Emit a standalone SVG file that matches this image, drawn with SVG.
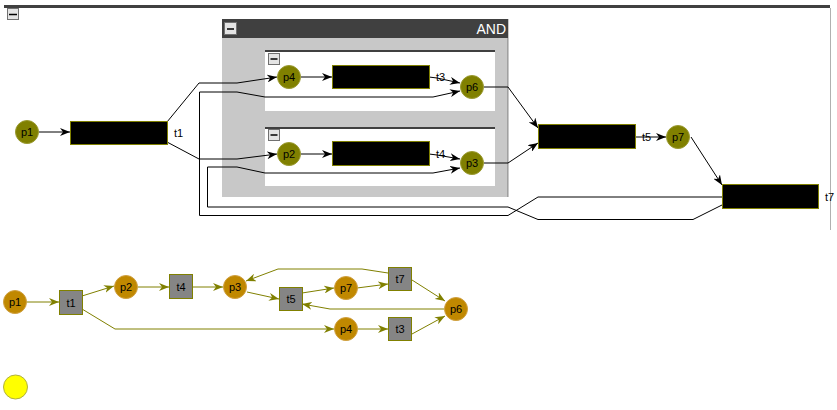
<svg xmlns="http://www.w3.org/2000/svg" width="837" height="410" viewBox="0 0 837 410">
<style>
text{font-family:"Liberation Sans",Arial,sans-serif;font-size:11px;fill:#000}
.pl{fill:#808000;stroke:#9a9a30;stroke-width:1}
.tr{fill:#000;stroke:#808000;stroke-width:1}
.bp{fill:#c08800;stroke:#d0a040;stroke-width:1}
.bt{fill:#858585;stroke:#808000;stroke-width:1}
.c{fill:none;stroke:#000;stroke-width:1}
.o{fill:none;stroke:#808000;stroke-width:1}
.btn{fill:#e4e4e4;stroke:#707070;stroke-width:1}
.lab{text-anchor:middle}
</style>
<defs>
<marker id="ab" markerUnits="userSpaceOnUse" markerWidth="10" markerHeight="8" refX="10" refY="4" orient="auto"><path d="M0,0 L10,4 L0,8 L3,4 z" fill="#000"/></marker>
<marker id="ao" markerUnits="userSpaceOnUse" markerWidth="10" markerHeight="8" refX="10" refY="4" orient="auto"><path d="M0,0 L10,4 L0,8 L3,4 z" fill="#808000"/></marker>
</defs>
<rect width="837" height="410" fill="#fff"/>
<!-- frame -->
<rect x="4" y="5" width="826" height="3" fill="#404040"/>
<line x1="830.5" y1="8" x2="830.5" y2="230" stroke="#b0b0b0"/>
<rect class="btn" x="7.5" y="8.5" width="11" height="11"/>
<line x1="9" y1="14.5" x2="17" y2="14.5" stroke="#000" stroke-width="1.5"/>
<!-- AND container -->
<g id="and">
<rect x="222" y="19" width="287" height="178" fill="#c8c8c8"/>
<line x1="507.5" y1="38" x2="507.5" y2="197" stroke="#a0a0a0"/>
<rect x="222" y="19" width="286" height="19" fill="#404040"/>
<rect class="btn" x="224.5" y="22.5" width="12" height="12"/>
<line x1="227" y1="29" x2="234" y2="29" stroke="#000" stroke-width="1.5"/>
<text x="506" y="34" style="font-size:14px;fill:#fff;text-anchor:end">AND</text>
<rect x="265" y="50" width="230" height="61" fill="#fff"/>
<rect x="265" y="50" width="230" height="2" fill="#404040"/>
<rect class="btn" x="268.5" y="53.5" width="11" height="11"/>
<line x1="270.5" y1="59" x2="277.5" y2="59" stroke="#000" stroke-width="1.5"/>
<rect x="265" y="127" width="230" height="59" fill="#fff"/>
<rect x="265" y="127" width="230" height="2" fill="#404040"/>
<rect class="btn" x="268.5" y="129.5" width="11" height="11"/>
<line x1="270.5" y1="135" x2="277.5" y2="135" stroke="#000" stroke-width="1.5"/>
</g>
<!-- connectors top -->
<g id="connectors-top">
<line class="c" x1="39" y1="132" x2="70" y2="132" marker-end="url(#ab)"/>
<polyline class="c" points="167,122 199,83 237,83 277,77" marker-end="url(#ab)"/>
<polyline class="c" points="167,142 199,159 237,159 277,154" marker-end="url(#ab)"/>
<line class="c" x1="301" y1="77" x2="332" y2="77" marker-end="url(#ab)"/>
<polyline class="c" points="429,77 437,78 460,83" marker-end="url(#ab)"/>
<line class="c" x1="301" y1="154" x2="332" y2="154" marker-end="url(#ab)"/>
<polyline class="c" points="429,154 437,155 460,159" marker-end="url(#ab)"/>
<polyline class="c" points="722,197 538,197 508,215.5 199.5,215.5 199.5,92 237,92 265,97 433,97 460,91" marker-end="url(#ab)"/>
<polyline class="c" points="722,205 693,219.5 538,219.5 508,207 207.5,207 207.5,167 237,167 265,173 433,173 460,168" marker-end="url(#ab)"/>
<polyline class="c" points="484,87 508,87 538,128" marker-end="url(#ab)"/>
<polyline class="c" points="484,163 508,163 538,143" marker-end="url(#ab)"/>
<line class="c" x1="635" y1="137" x2="666" y2="137" marker-end="url(#ab)"/>
<line class="c" x1="691" y1="137" x2="722" y2="185" marker-end="url(#ab)"/>
</g>
<!-- top nodes -->
<g id="top-p1"><circle class="pl" cx="27" cy="132" r="11.5"/><text class="lab" x="27" y="136">p1</text></g>
<g id="top-t1"><rect class="tr" x="70.5" y="121.5" width="97" height="23"/><text x="174" y="137">t1</text></g>
<g id="top-p4"><circle class="pl" cx="289" cy="77" r="11.5"/><text class="lab" x="289" y="81">p4</text></g>
<g id="top-t3"><rect class="tr" x="332.5" y="65.5" width="97" height="23"/><text x="436" y="81">t3</text></g>
<g id="top-p6"><circle class="pl" cx="472" cy="87" r="11.5"/><text class="lab" x="472" y="91">p6</text></g>
<g id="top-p2"><circle class="pl" cx="289" cy="154" r="11.5"/><text class="lab" x="289" y="158">p2</text></g>
<g id="top-t4"><rect class="tr" x="332.5" y="141.5" width="97" height="24"/><text x="436" y="158">t4</text></g>
<g id="top-p3"><circle class="pl" cx="472" cy="163" r="11.5"/><text class="lab" x="472" y="167">p3</text></g>
<g id="top-t5"><rect class="tr" x="538.5" y="124.5" width="97" height="24"/><text x="642" y="141">t5</text></g>
<g id="top-p7"><circle class="pl" cx="678" cy="137" r="11.5"/><text class="lab" x="678" y="141">p7</text></g>
<g id="top-t7"><rect class="tr" x="722.5" y="184.5" width="96" height="24"/><text x="825" y="201">t7</text></g>
<!-- connectors bottom -->
<g id="connectors-bottom">
<line class="o" x1="26" y1="302" x2="59" y2="302" marker-end="url(#ao)"/>
<line class="o" x1="82" y1="296" x2="114" y2="286" marker-end="url(#ao)"/>
<polyline class="o" points="82,309 115,329 334,329" marker-end="url(#ao)"/>
<line class="o" x1="138" y1="287" x2="169" y2="287" marker-end="url(#ao)"/>
<line class="o" x1="192" y1="287" x2="223" y2="287" marker-end="url(#ao)"/>
<line class="o" x1="247" y1="292" x2="279" y2="299" marker-end="url(#ao)"/>
<line class="o" x1="302" y1="293" x2="334" y2="288" marker-end="url(#ao)"/>
<line class="o" x1="357" y1="288" x2="388" y2="284" marker-end="url(#ao)"/>
<polyline class="o" points="388,273 362,269 278,269 246,281" marker-end="url(#ao)"/>
<line class="o" x1="412" y1="280" x2="445" y2="301" marker-end="url(#ao)"/>
<polyline class="o" points="444,309 330,309 302,304" marker-end="url(#ao)"/>
<line class="o" x1="357" y1="329" x2="388" y2="329" marker-end="url(#ao)"/>
<line class="o" x1="412" y1="334" x2="445" y2="316" marker-end="url(#ao)"/>
</g>
<!-- bottom nodes -->
<g id="bot-p1"><circle class="bp" cx="15" cy="302" r="11.5"/><text class="lab" x="15" y="306">p1</text></g>
<g id="bot-t1"><rect class="bt" x="59.5" y="290.5" width="23" height="24"/><text class="lab" x="71" y="307">t1</text></g>
<g id="bot-p2"><circle class="bp" cx="126" cy="287" r="11.5"/><text class="lab" x="126" y="291">p2</text></g>
<g id="bot-t4"><rect class="bt" x="169.5" y="274.5" width="23" height="24"/><text class="lab" x="181" y="291">t4</text></g>
<g id="bot-p3"><circle class="bp" cx="235" cy="287" r="11.5"/><text class="lab" x="235" y="291">p3</text></g>
<g id="bot-t5"><rect class="bt" x="279.5" y="287.5" width="23" height="23"/><text class="lab" x="291" y="303">t5</text></g>
<g id="bot-p7"><circle class="bp" cx="346" cy="288" r="11.5"/><text class="lab" x="346" y="292">p7</text></g>
<g id="bot-t7"><rect class="bt" x="388.5" y="267.5" width="23" height="23"/><text class="lab" x="400" y="283">t7</text></g>
<g id="bot-p6"><circle class="bp" cx="456" cy="309" r="11.5"/><text class="lab" x="456" y="313">p6</text></g>
<g id="bot-p4"><circle class="bp" cx="346" cy="329" r="11.5"/><text class="lab" x="346" y="333">p4</text></g>
<g id="bot-t3"><rect class="bt" x="388.5" y="317.5" width="23" height="23"/><text class="lab" x="400" y="333">t3</text></g>
<g id="token"><circle cx="15.5" cy="387" r="12" fill="#ffff00" stroke="#b0b040"/></g>
</svg>
